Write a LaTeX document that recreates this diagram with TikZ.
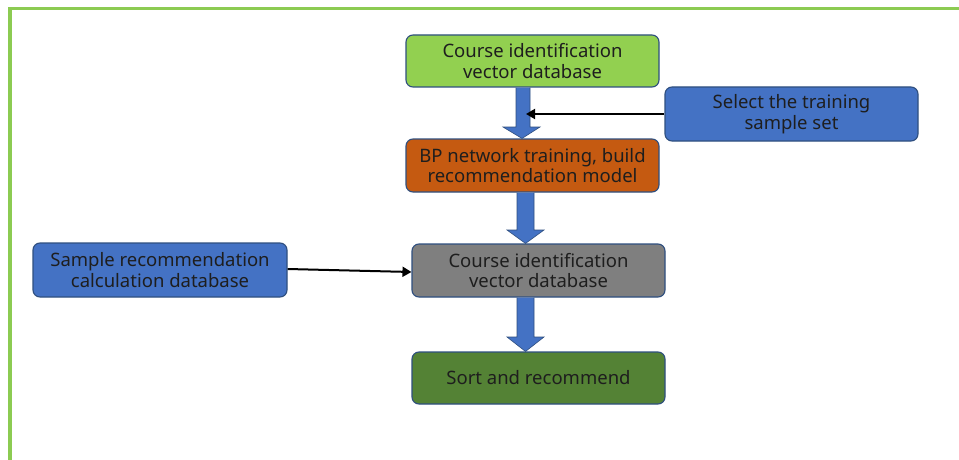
\documentclass[tikz,border=0pt]{standalone}
\usepackage{fontspec}
\setmainfont{Noto Sans}
\usetikzlibrary{shapes.arrows,arrows.meta}
\definecolor{framegreen}{HTML}{8CCB52}
\definecolor{boxgreen}{HTML}{92D050}
\definecolor{boxorange}{HTML}{C55A11}
\definecolor{boxgray}{HTML}{7F7F7F}
\definecolor{boxdkgreen}{HTML}{548235}
\definecolor{boxblue}{HTML}{4472C4}
\definecolor{edgeblue}{HTML}{2F4F7F}
\definecolor{txt}{HTML}{1E1E1E}
\tikzset{
  box/.style={draw=edgeblue, line width=1.1pt, rounded corners=7pt, align=center,
    text=txt, font=\fontsize{18.5}{20.5}\selectfont, inner sep=0pt},
  fatarrow/.style={fill=boxblue, draw=edgeblue, line width=0.6pt},
  thinarrow/.style={draw=black, line width=2pt, -{Triangle[length=9pt,width=10pt]}}
}
\begin{document}
\begin{tikzpicture}[x=1pt,y=-1pt]
\useasboundingbox (0,0) rectangle (959,460);
\fill[white] (0,0) rectangle (959,460);
% frame
\draw[framegreen, line width=3.5pt] (10,460) -- (10,8.5) -- (959,8.5);
% boxes
\node[box, fill=boxgreen, minimum width=253pt, minimum height=52pt] (b1) at (532.5,61) {Course identification\\vector database};
\node[box, fill=boxorange, minimum width=253pt, minimum height=53pt] (b2) at (532.5,165.5) {BP network training, build\\recommendation model};
\node[box, fill=boxgray, minimum width=253pt, minimum height=53pt] (b3) at (538.5,270.5) {Course identification\\vector database};
\node[box, fill=boxdkgreen, minimum width=253pt, minimum height=52pt] (b4) at (538.5,378) {Sort and recommend};
\node[box, fill=boxblue, minimum width=253pt, minimum height=54pt] (r1) at (791.5,114) {Select the training\\sample set};
\node[box, fill=boxblue, minimum width=254pt, minimum height=54pt] (l1) at (160,270) {Sample recommendation\\calculation database};
% fat arrows
\draw[fatarrow] (b1.south -| 516,0) -- (516,127) -- (503,127) -- (b2.north -| 522,0) -- (540,127) -- (530,127) -- (b1.south -| 530,0);
\draw[fatarrow] (b2.south -| 517,0) -- (517,230) -- (507,230) -- (b3.north -| 525.5,0) -- (544,230) -- (534,230) -- (b2.south -| 534,0);
\draw[fatarrow] (b3.south -| 517,0) -- (517,337) -- (507,337) -- (b4.north -| 525.5,0) -- (544,337) -- (534,337) -- (b3.south -| 534,0);
% thin arrows
\coordinate (t1) at (526,114);
\draw[thinarrow] (r1.west) -- (t1);
\draw[thinarrow] (l1.east |- 0,269) -- (b3.west |- 0,272);
\end{tikzpicture}
\end{document}
